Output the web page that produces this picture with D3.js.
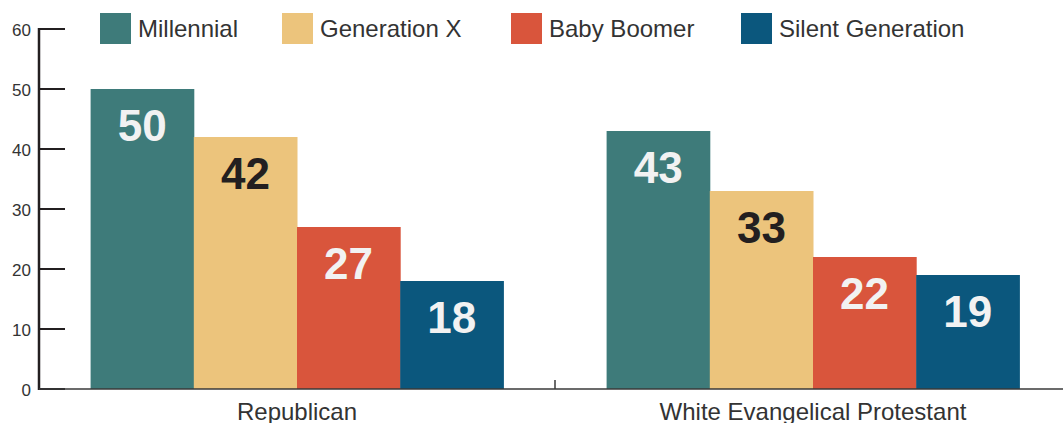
<!DOCTYPE html>
<html lang="en">
  <head>
    <meta charset="UTF-8" />
    <title>Generations by group</title>
    <script src="https://d3js.org/d3.v7.min.js"></script>
    <style>
      body {
        margin: 0;
        background: #ffffff;
        font-family: 'Liberation Sans', Arial, sans-serif;
      }
      svg {
        display: block;
      }
      .value-label {
        font-weight: bold;
        font-size: 44px;
        text-anchor: middle;
      }
      .y-tick text {
        font-size: 17px;
        fill: #333;
        font-family: 'Liberation Sans', Arial, sans-serif;
      }
    </style>
  </head>
  <body>
    <svg width="1063" height="423"></svg>

    <script>
      // data
      const groups = ['Republican', 'White Evangelical Protestant'];
      const generations = ['Millennial', 'Generation X', 'Baby Boomer', 'Silent Generation'];
      const republican = [50, 42, 27, 18];
      const evangelical = [43, 33, 22, 19];
      const yTicks = [0, 10, 20, 30, 40, 50, 60];

      const colors = ['#3e7b7a', '#ecc47c', '#d9553c', '#0b577d'];
      const labelColors = ['#f2f2f2', '#231f20', '#f2f2f2', '#f2f2f2'];

      const rows = [republican, evangelical];

      const svg = d3.select('svg');
      const mLeft = 39, mTop = 29, mBottom = 389, mRight = 1071;

      const y = d3.scaleLinear().domain([0, 60]).range([mBottom, mTop]);

      const x0 = d3.scaleBand()
        .domain(groups)
        .range([mLeft, mRight])
        .paddingInner(0)
        .paddingOuter(0);

      // inner scale: bars fill ~80% of each band
      const x1 = d3.scaleBand()
        .domain(generations)
        .range([x0.bandwidth() * 0.1, x0.bandwidth() * 0.9]);

      // bars
      const g = svg.selectAll('g.group')
        .data(groups)
        .join('g')
        .attr('class', 'group')
        .attr('transform', (d) => `translate(${x0(d)},0)`);

      g.selectAll('rect')
        .data((d, i) => rows[i].map((v, j) => ({ gen: generations[j], v, j })))
        .join('rect')
        .attr('x', (d) => x1(d.gen))
        .attr('width', x1.bandwidth() + 0.5)
        .attr('y', (d) => y(d.v))
        .attr('height', (d) => y(0) - y(d.v))
        .attr('fill', (d) => colors[d.j]);

      g.selectAll('text')
        .data((d, i) => rows[i].map((v, j) => ({ gen: generations[j], v, j })))
        .join('text')
        .attr('class', 'value-label')
        .attr('x', (d) => x1(d.gen) + x1.bandwidth() / 2)
        .attr('y', (d) => y(d.v) + 52)
        .attr('fill', (d) => labelColors[d.j])
        .text((d) => d.v);

      // y axis
      const yAxis = d3.axisLeft(y)
        .tickValues(yTicks)
        .tickSize(0)
        .tickPadding(8);

      const ya = svg.append('g')
        .attr('class', 'y-tick')
        .attr('transform', `translate(${mLeft},0)`)
        .call(yAxis);
      ya.select('.domain').remove();
      ya.selectAll('text').attr('dy', '0.4em');

      // ticks drawn to the right of the axis line
      svg.append('g')
        .selectAll('line')
        .data(yTicks)
        .join('line')
        .attr('x1', mLeft)
        .attr('x2', mLeft + 26)
        .attr('y1', (d) => y(d))
        .attr('y2', (d) => y(d))
        .attr('stroke', '#231f20')
        .attr('stroke-width', 2);

      svg.append('line')
        .attr('x1', mLeft)
        .attr('x2', mLeft)
        .attr('y1', y(60) - 1)
        .attr('y2', mBottom + 1)
        .attr('stroke', '#231f20')
        .attr('stroke-width', 2.5);

      // x axis
      svg.append('line')
        .attr('x1', mLeft)
        .attr('x2', 1063)
        .attr('y1', mBottom)
        .attr('y2', mBottom)
        .attr('stroke', '#3a3a3a')
        .attr('stroke-width', 1.5);

      svg.append('line')
        .attr('x1', x0(groups[1]))
        .attr('x2', x0(groups[1]))
        .attr('y1', mBottom - 9)
        .attr('y2', mBottom)
        .attr('stroke', '#3a3a3a')
        .attr('stroke-width', 1.5);

      svg.append('g')
        .selectAll('text')
        .data(groups)
        .join('text')
        .attr('x', (d) => x0(d) + x0.bandwidth() / 2)
        .attr('y', mBottom + 31)
        .attr('text-anchor', 'middle')
        .attr('font-size', 24)
        .attr('fill', '#333')
        .text((d) => d);

      // legend
      const legendX = [100, 282, 511, 741];
      const legend = svg.append('g')
        .selectAll('g')
        .data(generations)
        .join('g')
        .attr('transform', (d, i) => `translate(${legendX[i]},13)`);

      legend.append('rect')
        .attr('width', 31)
        .attr('height', 31)
        .attr('fill', (d, i) => colors[i]);

      legend.append('text')
        .attr('x', 38)
        .attr('y', 24)
        .attr('font-size', 24)
        .attr('fill', '#333')
        .text((d) => d);
    </script>
  </body>
</html>
